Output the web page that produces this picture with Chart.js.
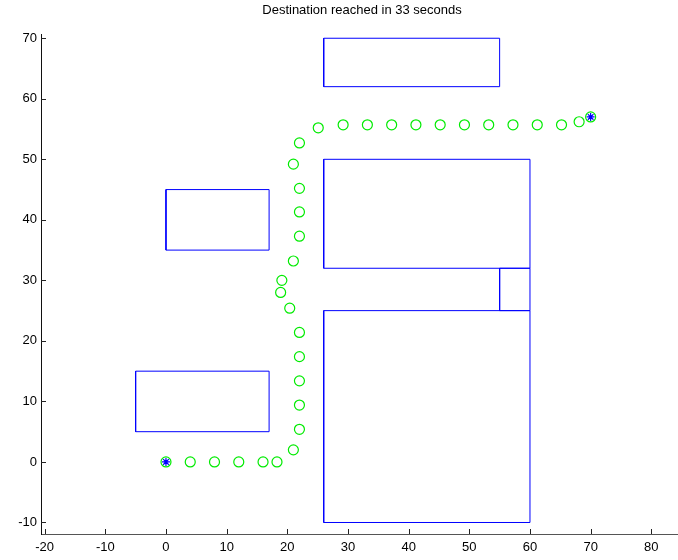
<!DOCTYPE html>
<html>
<head>
<meta charset="utf-8">
<script src="https://cdn.jsdelivr.net/npm/chart.js@4.4.1/dist/chart.umd.min.js"></script>
<style>
  html, body { margin: 0; padding: 0; background: #fff; }
  #wrap { width: 678px; height: 560px; }
</style>
</head>
<body>
<div id="wrap"><canvas id="c" width="678" height="560"></canvas></div>
<script>
// Robot trajectory, one sample per second
const titleText = 'Destination reached in 33 seconds';
const pathX = [0, 4, 8, 12, 16, 18.3, 21, 22, 22, 22, 22, 22, 20.4, 18.9, 19.1, 21, 22, 22, 22, 21, 22, 25.1,
               29.2, 33.2, 37.2, 41.2, 45.2, 49.2, 53.2, 57.2, 61.2, 65.2, 68.1, 70];
const pathY = [0, 0, 0, 0, 0, 0, 2, 5.4, 9.4, 13.4, 17.4, 21.4, 25.4, 28, 30, 33.2, 37.3, 41.3, 45.2, 49.2, 52.7, 55.2,
               55.7, 55.7, 55.7, 55.7, 55.7, 55.7, 55.7, 55.7, 55.7, 55.7, 56.2, 57];

// Start and goal positions
const startX = [0];
const startY = [0];
const goalX = [70];
const goalY = [57];

// Rectangular obstacles: lower-left and upper-right corners
const obstacleX0 = [26, 26, 55, 26, 0, -5];
const obstacleY0 = [62, 32, 25, -10, 35, 5];
const obstacleX1 = [55, 60, 60, 60, 17, 17];
const obstacleY1 = [70, 50, 32, 25, 45, 15];

// Axis limits and tick spacing
const xLimits = [-20.6, 84.4];
const yLimits = [-11.9, 70.7];
const tickStep = 10;

const BLUE = 'rgb(0,0,255)';
const GREEN = 'rgb(0,235,0)';

const obstacleSets = obstacleX0.map((x0, i) => ({
  data: [
    { x: x0, y: obstacleY0[i] },
    { x: obstacleX1[i], y: obstacleY0[i] },
    { x: obstacleX1[i], y: obstacleY1[i] },
    { x: x0, y: obstacleY1[i] },
    { x: x0, y: obstacleY0[i] }
  ],
  showLine: true,
  borderColor: BLUE,
  borderWidth: 1,
  pointRadius: 0,
  fill: false,
  tension: 0
}));

const markerSets = [
  {
    data: startX.map((x, i) => ({ x, y: startY[i] })),
    pointStyle: 'star', pointRadius: 4, borderColor: BLUE, borderWidth: 1.2, backgroundColor: BLUE
  },
  {
    data: goalX.map((x, i) => ({ x, y: goalY[i] })),
    pointStyle: 'star', pointRadius: 4, borderColor: BLUE, borderWidth: 1.2, backgroundColor: BLUE
  },
  {
    data: pathX.map((x, i) => ({ x, y: pathY[i] })),
    pointStyle: 'circle', pointRadius: 5, borderColor: GREEN, borderWidth: 1.2,
    backgroundColor: 'rgba(0,0,0,0)', showLine: false
  }
];

// Inward tick marks and the title centred over the axes
const axesDecor = {
  id: 'axesDecor',
  afterDraw(chart) {
    const { ctx, chartArea: a, scales: { x, y } } = chart;
    ctx.save();
    ctx.strokeStyle = '#222';
    ctx.lineWidth = 1;
    ctx.beginPath();
    x.ticks.forEach(t => {
      const px = Math.round(x.getPixelForValue(t.value)) + 0.5;
      ctx.moveTo(px, a.bottom);
      ctx.lineTo(px, a.bottom - 5);
    });
    y.ticks.forEach(t => {
      const py = Math.round(y.getPixelForValue(t.value)) + 0.5;
      ctx.moveTo(a.left, py);
      ctx.lineTo(a.left + 5, py);
    });
    ctx.stroke();
    ctx.fillStyle = '#000';
    ctx.font = '13px "Liberation Sans", Arial, sans-serif';
    ctx.textAlign = 'center';
    ctx.textBaseline = 'middle';
    ctx.fillText(titleText, 362, 10);
    ctx.restore();
  }
};

new Chart(document.getElementById('c'), {
  type: 'scatter',
  data: { datasets: [...markerSets, ...obstacleSets] },
  options: {
    responsive: false,
    animation: false,
    devicePixelRatio: 1,
    layout: { autoPadding: false, padding: { top: 34, right: 0, left: 0, bottom: 0 } },
    plugins: { legend: { display: false }, tooltip: { enabled: false }, title: { display: false } },
    scales: {
      x: {
        type: 'linear',
        min: xLimits[0], max: xLimits[1],
        afterFit(s) { s.height = 26; s.paddingLeft = 0; s.paddingRight = 0; },
        grid: { display: false, drawTicks: false },
        border: { display: true, color: '#555', width: 1 },
        ticks: {
          stepSize: tickStep, includeBounds: false, autoSkip: false, maxRotation: 0,
          padding: 6, color: '#000',
          font: { family: '"Liberation Sans", Arial, sans-serif', size: 13 },
          callback: v => String(v)
        }
      },
      y: {
        type: 'linear',
        min: yLimits[0], max: yLimits[1],
        afterFit(s) { s.width = 41; s.paddingTop = 0; s.paddingBottom = 0; },
        grid: { display: false, drawTicks: false },
        border: { display: true, color: '#111', width: 1 },
        ticks: {
          stepSize: tickStep, includeBounds: false, autoSkip: false,
          padding: 4, color: '#000',
          font: { family: '"Liberation Sans", Arial, sans-serif', size: 13 },
          callback: v => String(v)
        }
      }
    }
  },
  plugins: [axesDecor]
});
</script>
</body>
</html>
